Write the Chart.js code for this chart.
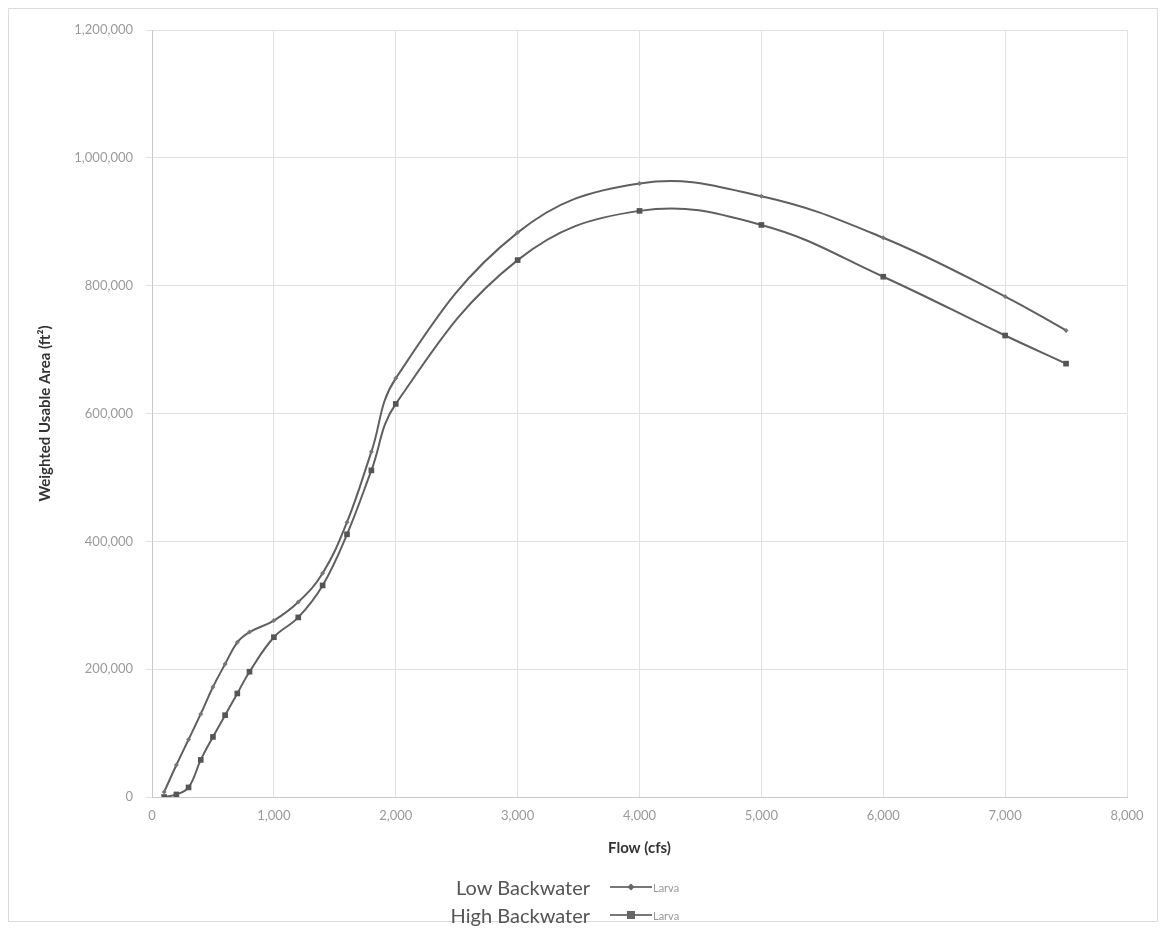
<!DOCTYPE html>
<html>
<head>
<meta charset="utf-8">
<script src="https://cdn.jsdelivr.net/npm/chart.js@4.4.1/dist/chart.umd.min.js"></script>
<style>
  body { margin: 0; background: #fff; font-family: Lato, "Open Sans", sans-serif; }
  #wrap { position: relative; width: 1166px; height: 930px; }
  #frame { position: absolute; left: 8px; top: 8px; width: 1150px; height: 914px;
           border: 1px solid #dcdcdc; box-sizing: border-box; pointer-events: none; }
  .leg { position: absolute; left: 380px; width: 330px; height: 26px; display: flex; align-items: center; }
  .leg .name { width: 210px; text-align: right; font-size: 20px; color: #555; }
  .leg .sample { position: relative; width: 42px; height: 2px; background: #777; margin-left: 20px; }
  .leg .sample i { position: absolute; left: 50%; top: 50%; transform: translate(-50%, -50%); background: #666; }
  .leg .tag { font-size: 11px; color: #999; margin-left: 1px; }
</style>
</head>
<body>
<div id="wrap">
  <canvas id="wuaChart"></canvas>
  <div id="frame"></div>
  <div class="leg" style="top:874px"><span class="name">Low Backwater</span><span class="sample"><i style="width:5px;height:5px;transform:translate(-50%,-50%) rotate(45deg)"></i></span><span class="tag">Larva</span></div>
  <div class="leg" style="top:902px"><span class="name">High Backwater</span><span class="sample"><i style="width:8px;height:8px"></i></span><span class="tag">Larva</span></div>
</div>
<script>
// Weighted usable area vs flow, larva, low/high backwater
var flows = [100, 200, 300, 400, 500, 600, 700, 800, 1000, 1200, 1400, 1600, 1800, 2000, 3000, 4000, 5000, 6000, 7000, 7500];
var lowBackwater = [8000, 50000, 90000, 130000, 172000, 208000, 242000, 258000, 276000, 305000, 350000, 430000, 540000, 655000, 883000, 960000, 940000, 875000, 783000, 730000];
var highBackwater = [0, 4000, 15000, 58000, 94000, 128000, 162000, 196000, 250000, 281000, 331000, 411000, 511000, 615000, 840000, 917000, 895000, 814000, 722000, 678000];
var xTicks = [0, 1000, 2000, 3000, 4000, 5000, 6000, 7000, 8000];
var yTicks = [0, 200000, 400000, 600000, 800000, 1000000, 1200000];

function pts(ys) {
  return flows.map(function (f, i) { return { x: f, y: ys[i] }; });
}

var LINE = '#5f5f5f';
var GRID = '#e2e2e2';
var TICK = '#9a9a9a';

Chart.defaults.font.family = "Lato, 'Open Sans', sans-serif";

new Chart(document.getElementById('wuaChart'), {
  type: 'line',
  data: {
    datasets: [{
      label: 'Low Backwater Larva',
      data: pts(lowBackwater),
      borderColor: LINE,
      backgroundColor: '#777',
      borderWidth: 2,
      pointStyle: 'rectRot',
      pointRadius: 2.5,
      pointBorderWidth: 0,
      tension: 0.4
    }, {
      label: 'High Backwater Larva',
      data: pts(highBackwater),
      borderColor: LINE,
      backgroundColor: '#555',
      borderWidth: 2,
      pointStyle: 'rect',
      pointRadius: 4,
      pointBorderWidth: 0,
      tension: 0.4
    }]
  },
  options: {
    responsive: true,
    maintainAspectRatio: false,
    animation: false,
    layout: { padding: { left: 20, top: 30, right: 39, bottom: 70 } },
    plugins: { legend: { display: false }, tooltip: { enabled: false } },
    scales: {
      x: {
        type: 'linear',
        min: xTicks[0],
        max: xTicks[xTicks.length - 1],
        afterBuildTicks: function (s) { s.ticks = xTicks.map(function (v) { return { value: v }; }); },
        afterFit: function (s) { s.height = 63; },
        grid: { color: GRID, drawTicks: false },
        border: { color: '#c8c8c8' },
        ticks: {
          color: TICK, font: { size: 13 }, padding: 11,
          callback: function (v) { return v.toLocaleString('en-US'); }
        },
        title: {
          display: true, text: 'Flow (cfs)', color: '#333',
          font: { size: 15, weight: 'bold' }, padding: { top: 0, bottom: 3 }
        }
      },
      y: {
        min: yTicks[0],
        max: yTicks[yTicks.length - 1],
        afterBuildTicks: function (s) { s.ticks = yTicks.map(function (v) { return { value: v }; }); },
        afterFit: function (s) { s.width = 132; },
        grid: { color: GRID, tickLength: 6 },
        border: { color: '#c8c8c8' },
        ticks: {
          color: TICK, font: { size: 13 }, padding: 13,
          callback: function (v) { return v.toLocaleString('en-US'); }
        },
        title: {
          display: true, text: 'Weighted Usable Area (ft²)', color: '#333',
          font: { size: 15, weight: 'bold' }, padding: { top: 16, bottom: 0 }
        }
      }
    }
  }
});
</script>
</body>
</html>
